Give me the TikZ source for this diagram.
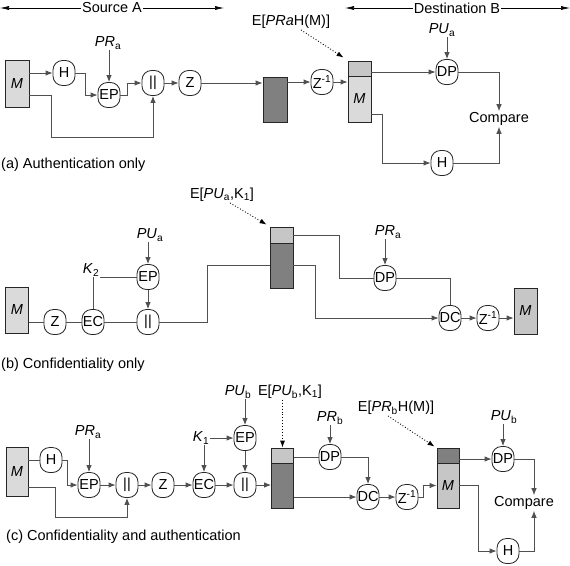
\documentclass[tikz,border=0pt]{standalone}
\usepackage{fontspec}
\setmainfont{Liberation Sans}
\usetikzlibrary{arrows.meta}
\definecolor{boxLight}{HTML}{DADADA}
\definecolor{boxMid}{HTML}{C6C6C6}
\definecolor{boxDark}{HTML}{808080}
\definecolor{lineGray}{HTML}{505050}

\begin{document}
\begin{tikzpicture}[
  x=1pt, y=-1pt,
  font=\fontsize{14.5pt}{16pt}\selectfont,
  fn/.style={draw=black!85, line width=0.8pt, rounded corners=9.5pt, fill=white, minimum width=22pt, minimum height=25pt, inner sep=0pt},
  blk/.style={draw=black!85, line width=0.8pt, inner sep=0pt, minimum width=23pt},
  lbl/.style={inner sep=1pt},
  arr/.style={-{Latex[length=7pt,width=5.5pt]}, line width=0.9pt, draw=lineGray},
  ln/.style={line width=0.9pt, draw=lineGray},
  dots/.style={-{Latex[length=7pt,width=5pt]}, dotted, line width=0.9pt},
  span/.style={-{Latex[length=9pt,width=4pt]}, line width=0.6pt}
]
  \useasboundingbox (0,0) rectangle (570,565);

  \node[lbl] (srcA) at (112,8) {Source A};
  \node[lbl] (dstB) at (457,8) {Destination B};
  \coordinate (srcL) at (0,8);
  \coordinate (srcR) at (224,8);
  \coordinate (dstL) at (345,8);
  \coordinate (dstR) at (570,8);
  \draw[span] (srcA) -- (srcL);
  \draw[span] (srcA) -- (srcR);
  \draw[span] (dstB) -- (dstL);
  \draw[span] (dstB) -- (dstR);

  \node[blk, fill=boxLight, minimum width=24pt, minimum height=47pt] (mA) at (17,84) {\textit{M}};
  \node[fn] (hA) at (64,73) {H};
  \node[fn] (epA) at (109,95) {EP};
  \node[lbl] (praA) at (108,43) {\textit{PR}\textsubscript{a}};
  \node[fn] (catA) at (153,83) {||};
  \node[fn] (zA) at (190,83) {Z};
  \node[blk, fill=boxDark, minimum width=24pt, minimum height=45pt] (encA) at (275,99.5) {};
  \node[fn] (zinvA) at (322,82) {Z\textsuperscript{-1}};
  \node[blk, fill=boxMid, minimum height=15pt] (recAt) at (359.5,68.5) {};
  \node[blk, fill=boxLight, minimum height=46pt] (recAm) at (359.5,99) {\textit{M}};
  \node[lbl] (sigA) at (291,22) {E[\textit{PRa}H(M)]};
  \node[lbl] (puA) at (442,30) {\textit{PU}\textsubscript{a}};
  \node[fn] (dpA) at (447,72) {DP};
  \node[fn] (hdA) at (442,163) {H};
  \node[lbl] (cmpA) at (499,119) {Compare};
  \node[lbl, anchor=west] (capA) at (0,165) {(a) Authentication only};

  \draw[arr] (mA.east |- hA) -- (hA);
  \draw[arr] (hA.east) -- ++(10,0) |- (epA);
  \draw[arr] (praA.south -| epA) -- (epA);
  \draw[arr] (epA.east) -- ++(7,0) |- (catA);
  \draw[arr] ([yshift=-11pt]mA.east) -- ++(22,0) -- ++(0,42) -| (catA.south);
  \draw[arr] (catA) -- (zA);
  \draw[arr] (zA) -- (zA -| encA.west);
  \draw[arr] (encA.east |- zinvA) -- (zinvA);
  \draw[arr] (zinvA) -- (zinvA -| recAm.west);
  \draw[dots] ([xshift=10pt]sigA.south) -- ([xshift=-4pt,yshift=3pt]recAt.north west);
  \draw[arr] (puA.south -| dpA) -- (dpA);
  \draw[arr] (recAt.east |- dpA) -- (dpA);
  \draw[arr] (dpA) -| (cmpA);
  \draw[arr] ([yshift=-15pt]recAm.east) -- ++(11,0) |- (hdA);
  \draw[arr] (hdA) -| (cmpA);

  \node[blk, fill=boxLight, minimum height=46pt] (mB) at (17,310) {\textit{M}};
  \node[fn] (zB) at (55,322) {Z};
  \node[fn] (ecB) at (93,322) {EC};
  \node[fn] (catB) at (148,322) {||};
  \node[fn] (epB) at (148,277) {EP};
  \node[lbl] (puB) at (150,235) {\textit{PU}\textsubscript{a}};
  \node[lbl] (kB) at (91,270) {\textit{K}\textsubscript{2}};
  \node[blk, fill=boxMid, minimum height=16pt] (encBt) at (281.5,235) {};
  \node[blk, fill=boxDark, minimum height=45pt] (encBb) at (281.5,265.5) {};
  \node[lbl] (sigB) at (222,195) {E[\textit{PU}\textsubscript{a},K\textsubscript{1}]};
  \node[fn] (dpB) at (385,278) {DP};
  \node[lbl] (praB) at (388,232) {\textit{PR}\textsubscript{a}};
  \node[fn] (dcB) at (450,318) {DC};
  \node[fn] (zinvB) at (488,318) {Z\textsuperscript{-1}};
  \node[blk, fill=boxMid, minimum height=46pt] (mB2) at (525.5,311) {\textit{M}};
  \node[lbl, anchor=west] (capB) at (0,365) {(b) Confidentiality only};

  \draw[ln] (mB.east |- zB) -- (zB);
  \draw[ln] (zB) -- (ecB);
  \draw[ln] (ecB) -- (catB);
  \draw[ln] (kB.east |- epB) -- (epB);
  \draw[ln] (kB.south -| ecB) -- (ecB);
  \draw[arr] (puB.south -| epB) -- (epB);
  \draw[arr] (epB) -- (catB);
  \draw[ln] (catB.east) -- ++(48,0) |- (encBb.west);
  \draw[dots] ([xshift=8pt]sigB.south) -- ([xshift=-3pt,yshift=2pt]encBt.north west);
  \draw[ln] (encBt.east) -- ++(46,0) |- (dpB);
  \draw[arr] (praB.south -| dpB) -- (dpB);
  \draw[ln] (dpB) -| (dcB);
  \draw[arr] (encBb.east) -- ++(22,0) |- (dcB);
  \draw[arr] (dcB) -- (zinvB);
  \draw[arr] (zinvB) -- (zinvB -| mB2.west);

  \node[blk, fill=boxLight, minimum width=22pt, minimum height=49pt] (mC) at (17,472) {\textit{M}};
  \node[fn] (hC) at (51,460) {H};
  \node[fn] (epC) at (89,485) {EP};
  \node[lbl] (praC) at (88,432) {\textit{PR}\textsubscript{a}};
  \node[fn] (catC) at (127,485) {||};
  \node[fn] (zC) at (163,485) {Z};
  \node[fn] (ecC) at (204,485) {EC};
  \node[lbl] (kC) at (201,438) {\textit{K}\textsubscript{1}};
  \node[fn] (epC2) at (245,438) {EP};
  \node[lbl] (puC) at (238,392) {\textit{PU}\textsubscript{b}};
  \node[fn] (catC2) at (245,485) {||};
  \node[blk, fill=boxMid, minimum width=22pt, minimum height=15pt] (encCt) at (282.5,455.5) {};
  \node[blk, fill=boxDark, minimum width=22pt, minimum height=45pt] (encCb) at (282.5,485.5) {};
  \node[lbl] (sigC) at (290,392) {E[\textit{PU}\textsubscript{b},K\textsubscript{1}]};
  \node[fn] (dpC) at (330,457) {DP};
  \node[lbl] (prbC) at (330,418) {\textit{PR}\textsubscript{b}};
  \node[fn] (dcC) at (368,497) {DC};
  \node[fn] (zinvC) at (407,497) {Z\textsuperscript{-1}};
  \node[blk, fill=boxDark, minimum width=22pt, minimum height=15pt] (recCt) at (448,455.5) {};
  \node[blk, fill=boxMid, minimum width=22pt, minimum height=45pt] (recCb) at (448,485.5) {\textit{M}};
  \node[lbl] (sigC2) at (396,408) {E[\textit{PR}\textsubscript{b}H(M)]};
  \node[lbl] (pubC) at (504,417) {\textit{PU}\textsubscript{b}};
  \node[fn] (dpC2) at (503,459) {DP};
  \node[lbl] (cmpC) at (524,503) {Compare};
  \node[fn] (hC2) at (508,551) {H};
  \node[lbl, anchor=west] (capC) at (5,537) {(c) Confidentiality and authentication};

  \draw[ln] (mC.east |- hC) -- (hC);
  \draw[arr] (hC.east) -- ++(5,0) |- (epC);
  \draw[arr] (praC.south -| epC) -- (epC);
  \draw[arr] (epC) -- (catC);
  \draw[arr] ([yshift=-15pt]mC.east) -- ++(27,0) -- ++(0,30) -| (catC.south);
  \draw[arr] (catC) -- (zC);
  \draw[arr] (zC) -- (ecC);
  \draw[arr] (kC) -- (epC2);
  \draw[arr] (kC.south -| ecC) -- (ecC);
  \draw[arr] (puC.south -| epC2) -- (epC2);
  \draw[arr] (epC2) -- (catC2);
  \draw[arr] (ecC) -- (catC2);
  \draw[arr] (catC2) -- (catC2 -| encCb.west);
  \draw[dots] (sigC.south -| encCt) -- (encCt.north);
  \draw[ln] (encCt.east |- dpC) -- (dpC);
  \draw[arr] (prbC.south -| dpC) -- (dpC);
  \draw[arr] (dpC) -| (dcC);
  \draw[arr] (encCb.east |- dcC) -- (dcC);
  \draw[arr] (dcC) -- (zinvC);
  \draw[arr] (zinvC.east) -- ++(5,0) |- (recCb.west);
  \draw[dots] ([xshift=-8pt]sigC2.south) -- ([xshift=-2pt,yshift=1pt]recCt.north west);
  \draw[arr] (recCt.east |- dpC2) -- (dpC2);
  \draw[arr] (pubC.south -| dpC2) -- (dpC2);
  \draw[arr] (dpC2) -| ([xshift=10pt]cmpC.north);
  \draw[arr] (recCb.east) -- ++(19,0) |- (hC2);
  \draw[arr] (hC2) -| ([xshift=10pt]cmpC.south);
\end{tikzpicture}
\end{document}
